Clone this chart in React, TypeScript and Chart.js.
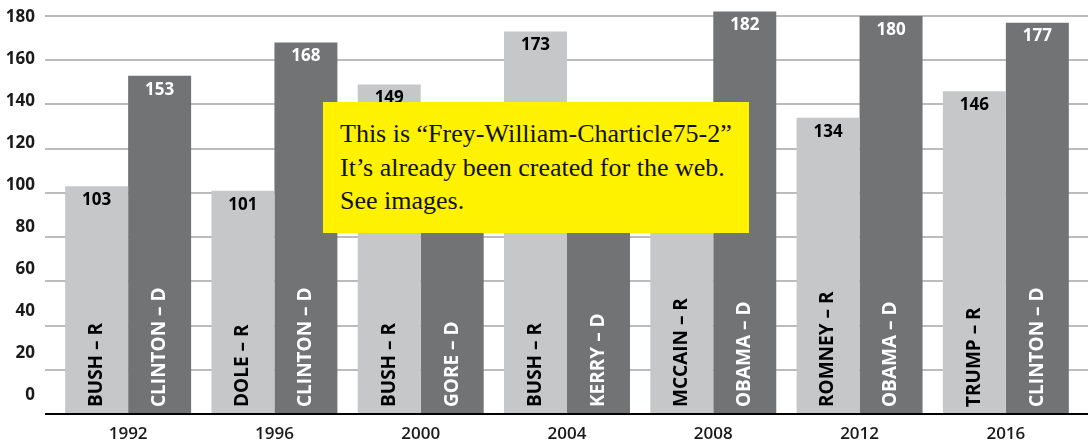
import React, { useEffect, useRef } from 'react';
import { Chart, registerables } from 'chart.js';

Chart.register(...registerables);

const years = ['1992', '1996', '2000', '2004', '2008', '2012', '2016'];
const repValues = [103, 101, 149, 173, 118, 134, 146];
const demValues = [153, 168, 123, 107, 182, 180, 177];
const repNames = ['BUSH – R', 'DOLE – R', 'BUSH – R', 'BUSH – R', 'MCCAIN – R', 'ROMNEY – R', 'TRUMP – R'];
const demNames = ['CLINTON – D', 'CLINTON – D', 'GORE – D', 'KERRY – D', 'OBAMA – D', 'OBAMA – D', 'CLINTON – D'];
const yTicks = [0, 20, 40, 60, 80, 100, 120, 140, 160, 180];
const noteLines = [
  'This is “Frey-William-Charticle75-2”',
  'It’s already been created for the web.',
  'See images.',
];

const FONT = '"Open Sans", sans-serif';
const LIGHT = '#c6c7c9';
const DARK = '#727375';

const decor = {
  id: 'decor',
  beforeDatasetsDraw(chart: any) {
    const ctx = chart.ctx;
    const y = chart.scales.y;
    ctx.save();
    ctx.strokeStyle = '#a6a6a6';
    ctx.lineWidth = 1.5;
    yTicks.forEach((v) => {
      if (v === 0) return;
      const py = Math.round(y.getPixelForValue(v));
      ctx.beginPath();
      ctx.moveTo(45, py);
      ctx.lineTo(chart.width, py);
      ctx.stroke();
    });
    ctx.restore();
  },
  afterDatasetsDraw(chart: any) {
    const ctx = chart.ctx;
    const y = chart.scales.y;
    const base = y.getPixelForValue(0);
    ctx.save();
    ctx.strokeStyle = '#000';
    ctx.lineWidth = 2;
    ctx.beginPath();
    ctx.moveTo(45, base);
    ctx.lineTo(chart.width, base);
    ctx.stroke();
    [0, 1].forEach((di) => {
      const meta = chart.getDatasetMeta(di);
      const values = di === 0 ? repValues : demValues;
      const names = di === 0 ? repNames : demNames;
      const color = di === 0 ? '#000' : '#fff';
      meta.data.forEach((bar: any, i: number) => {
        ctx.fillStyle = color;
        ctx.font = `700 17px ${FONT}`;
        ctx.textAlign = 'center';
        ctx.textBaseline = 'middle';
        ctx.fillText(String(values[i]), bar.x, bar.y + 14);
        ctx.save();
        ctx.translate(bar.x, base - 7);
        ctx.rotate(-Math.PI / 2);
        ctx.font = `700 19px ${FONT}`;
        ctx.textAlign = 'left';
        ctx.textBaseline = 'middle';
        ctx.fillText(names[i], 0, 0);
        ctx.restore();
      });
    });
    ctx.restore();
  },
};

const zeroPad = (s: any) => {
  s.paddingTop = 0;
  s.paddingBottom = 0;
  s.paddingLeft = 0;
  s.paddingRight = 0;
};

export default function App() {
  const canvasRef = useRef<HTMLCanvasElement | null>(null);

  useEffect(() => {
    if (!canvasRef.current) return;
    const chart = new Chart(canvasRef.current, {
      type: 'bar',
      data: {
        labels: years,
        datasets: [
          { data: repValues, backgroundColor: LIGHT, borderWidth: 0, barPercentage: 1, categoryPercentage: 0.861, clip: false },
          { data: demValues, backgroundColor: DARK, borderWidth: 0, barPercentage: 1, categoryPercentage: 0.861, clip: false },
        ],
      },
      options: {
        animation: false,
        responsive: false,
        layout: { padding: { top: 16, right: 9, left: 0, bottom: 0 } },
        plugins: { legend: { display: false }, tooltip: { enabled: false } },
        scales: {
          x: {
            grid: { display: false, drawTicks: false },
            border: { display: false },
            ticks: { font: { family: FONT, size: 17, weight: '600' }, color: '#1a1a1a', padding: 10 },
            afterFit: (s: any) => { s.height = 30; zeroPad(s); },
          },
          y: { display: false, min: 0, max: 180, afterFit: zeroPad },
          yl: {
            position: 'left',
            min: -9.15,
            max: 180.55,
            grid: { display: false, drawTicks: false },
            border: { display: false },
            ticks: {
              stepSize: 20,
              includeBounds: false,
              padding: 20,
              font: { family: FONT, size: 17, weight: '700' },
              color: '#1a1a1a',
              callback: (v: any) => (yTicks.includes(v) ? String(v) : ''),
            },
            afterFit: (s: any) => { s.width = 55; zeroPad(s); },
          },
        },
      },
      plugins: [decor],
    } as any);
    return () => chart.destroy();
  }, []);

  return (
    <div style={{ position: 'fixed', left: 0, top: 0, width: 1088, height: 444, background: '#fff', overflow: 'hidden' }}>
      <canvas ref={canvasRef} width={1088} height={444} style={{ display: 'block', width: 1088, height: 444 }} />
      <div
        style={{
          position: 'absolute',
          left: 323,
          top: 102,
          width: 426,
          height: 131,
          boxSizing: 'border-box',
          background: '#fff200',
          padding: '15px 0 0 17px',
          fontFamily: '"Liberation Serif", serif',
          fontSize: 26,
          lineHeight: '33.5px',
          color: '#111',
          whiteSpace: 'nowrap',
        }}
      >
        {noteLines.map((l, i) => (
          <div key={i}>{l}</div>
        ))}
      </div>
    </div>
  );
}
